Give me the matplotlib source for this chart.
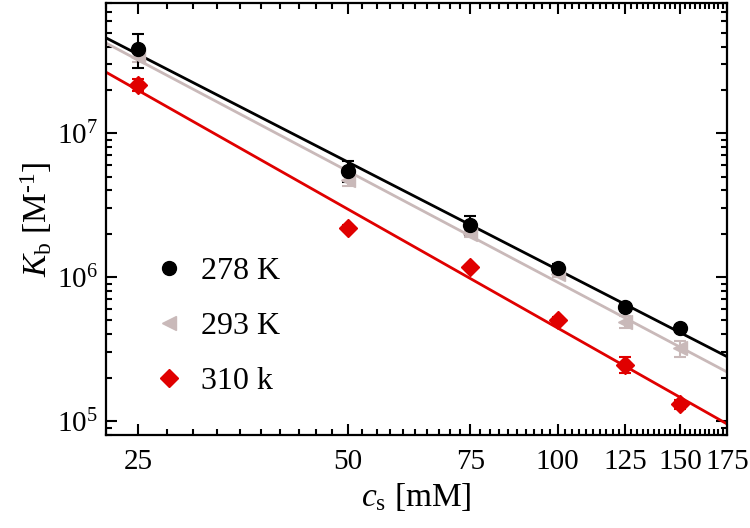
import numpy as np
import matplotlib
matplotlib.use("Agg")
import matplotlib.pyplot as plt
from matplotlib.lines import Line2D
from matplotlib.ticker import FixedLocator, NullFormatter, LogLocator

plt.rcParams['font.family'] = ['Liberation Serif', 'DejaVu Serif']
plt.rcParams['mathtext.fontset'] = 'custom'
plt.rcParams['mathtext.rm'] = 'Liberation Serif'
plt.rcParams['mathtext.it'] = 'Liberation Serif:italic'

# ---- data ----
cs = [25, 50, 75, 100, 125, 150]
k278 = [3.85e7, 5.5e6, 2.3e6, 1.15e6, 6.2e5, 4.45e5]
e278 = [1.0e7, 0.9e6, 0.35e6, 0.08e6, 0.03e6, 0.02e6]
k293 = [3.4e7, 4.7e6, 2.0e6, 1.06e6, 4.9e5, 3.2e5]
e293 = [0.3e7, 0.4e6, 0.1e6, 0.05e6, 0.5e5, 0.4e5]
k310 = [2.17e7, 2.19e6, 1.17e6, 5.0e5, 2.47e5, 1.31e5]
e310 = [0.2e7, 0.1e6, 0.05e6, 0.3e5, 0.3e5, 0.1e5]
labels = ['278 K', '293 K', '310 k']
colors = ['#000000', '#c9b9b9', '#e00000']
markers = ['o', '<', 'D']
msizes = [10, 10, 9]
xtick_vals = [25, 50, 75, 100, 125, 150, 175]
xtick_labels = ['25', '50', '75', '100', '125', '150', '175']

fig = plt.figure(figsize=(7.5, 5.28), dpi=100)
ax = fig.add_axes([0.1413, 0.176, 0.8280, 0.818])
ax.set_xscale('log')
ax.set_yscale('log')
xmin, xmax = 22.5, 175
ax.set_xlim(xmin, xmax)
ax.set_ylim(8e4, 8e7)

xfit = np.array([xmin, xmax])
series = [(k278, e278), (k293, e293), (k310, e310)]
order = [1, 2, 0]
for i in order:
    k, e = series[i]
    p = np.polyfit(np.log10(cs), np.log10(k), 1)
    ax.plot(xfit, 10 ** np.polyval(p, np.log10(xfit)), color=colors[i], lw=2.0, zorder=2)
for i in order:
    k, e = series[i]
    ax.errorbar(cs, k, yerr=e, fmt=markers[i], color=colors[i], ms=msizes[i],
                capsize=4, elinewidth=1.5, capthick=1.5, mec=colors[i], zorder=3)

handles = [Line2D([], [], ls='none', marker=markers[i], color=colors[i],
                  ms=msizes[i], mec=colors[i]) for i in range(3)]
leg = ax.legend(handles, labels, loc='lower left',
                bbox_to_anchor=(0.035, 0.024), frameon=False, fontsize=23,
                handlelength=0.8, handletextpad=0.6, labelspacing=0.8)

ax.xaxis.set_major_locator(FixedLocator(xtick_vals))
ax.set_xticklabels(xtick_labels)
ax.xaxis.set_minor_locator(FixedLocator(np.arange(22.5, 176, 2.5)))
ax.xaxis.set_minor_formatter(NullFormatter())
ax.yaxis.set_major_locator(LogLocator(base=10, numticks=10))
ax.yaxis.set_minor_locator(LogLocator(base=10, subs=np.arange(2, 10), numticks=10))
ax.yaxis.set_minor_formatter(NullFormatter())

ax.tick_params(which='both', direction='in', top=True, right=True, width=1.5,
               labelsize=21)
ax.tick_params(which='major', length=8)
ax.tick_params(which='minor', length=4.5)
ax.tick_params(axis='x', pad=10)
ax.tick_params(axis='y', pad=6)
for s in ax.spines.values():
    s.set_linewidth(1.6)

ax.set_xlabel(r'$c_\mathrm{s}$ [mM]', fontsize=24, labelpad=4)
ax.set_ylabel(r'$K_\mathrm{b}$ [M$^{\text{-}1}$]', fontsize=24, labelpad=2)

fig.savefig('out.png', dpi=100)
